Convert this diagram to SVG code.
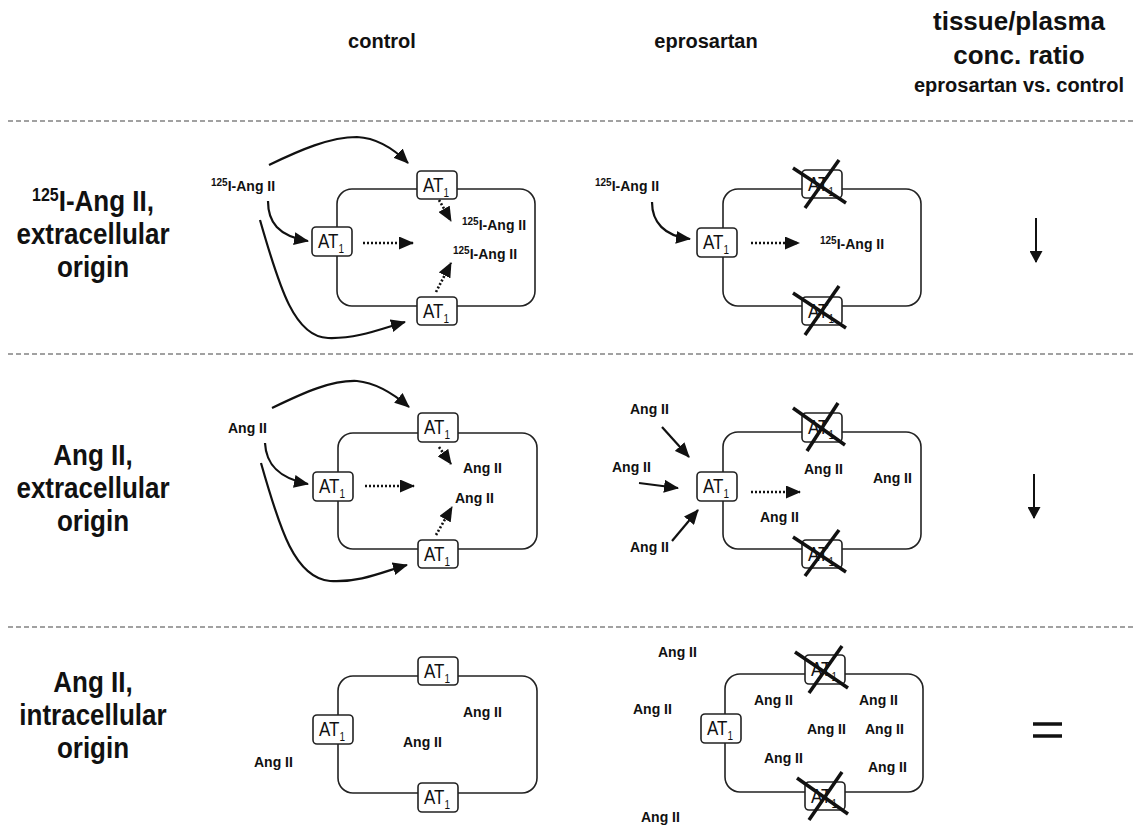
<svg xmlns="http://www.w3.org/2000/svg" width="1135" height="826" viewBox="0 0 1135 826">
<style>
text{font-family:"Liberation Sans",Arial,sans-serif;fill:#111}
.lbl{font-size:26px;font-weight:bold;text-anchor:middle}
.hdr{font-size:20px;font-weight:bold;text-anchor:middle}
.hdr2{font-size:26px;font-weight:bold;text-anchor:middle}
.sm{font-size:14px;font-weight:bold}
.sup{font-size:10px}
.at{font-size:17px}
.sub{font-size:10px}
.cell{fill:none;stroke:#222;stroke-width:1.6}
.box{fill:#fff;stroke:#222;stroke-width:1.6}
.sep{stroke:#444;stroke-width:1.2;stroke-dasharray:5 3}
.cur{fill:none;stroke:#111;stroke-width:2.2;marker-end:url(#ah)}
.dot{fill:none;stroke:#111;stroke-width:2.6;stroke-dasharray:2 2;marker-end:url(#ah)}
.dn{fill:none;stroke:#111;stroke-width:2;marker-end:url(#ah2)}
.x{stroke:#111;stroke-width:3.5}
</style>
<defs>
<marker id="ah" viewBox="0 0 15 13" refX="14" refY="6.5" markerWidth="15" markerHeight="13" markerUnits="userSpaceOnUse" orient="auto"><path d="M0,0 L15,6.5 L0,13 z" fill="#111"/></marker>
<marker id="ah2" viewBox="0 0 12 13" refX="11" refY="6.5" markerWidth="12" markerHeight="13" markerUnits="userSpaceOnUse" orient="auto"><path d="M0,0 L12,6.5 L0,13 z" fill="#111"/></marker>
</defs>
<rect width="1135" height="826" fill="#fff"/>

<g id="headers">
<text class="hdr" x="382" y="48">control</text>
<text class="hdr" x="706" y="48">eprosartan</text>
<text class="hdr2" x="1019" y="30">tissue/plasma</text>
<text class="hdr2" x="1019" y="64">conc. ratio</text>
<text class="hdr" x="1019" y="92">eprosartan vs. control</text>
</g>

<g id="separators">
<line class="sep" x1="8" y1="121" x2="1135" y2="121"/>
<line class="sep" x1="8" y1="354" x2="1135" y2="354"/>
<line class="sep" x1="8" y1="627" x2="1135" y2="627"/>
</g>

<g id="row-labels">
<text class="lbl" x="93" y="211" transform="matrix(1 0 0 1.15 0 -31.65)"><tspan font-size="16" dy="-9">125</tspan><tspan dy="9">I-Ang II,</tspan></text>
<text class="lbl" x="93" y="244" transform="matrix(1 0 0 1.15 0 -36.6)">extracellular</text>
<text class="lbl" x="93" y="277" transform="matrix(1 0 0 1.15 0 -41.55)">origin</text>
<text class="lbl" x="93" y="465" transform="matrix(1 0 0 1.15 0 -69.75)">Ang II,</text>
<text class="lbl" x="93" y="498" transform="matrix(1 0 0 1.15 0 -74.7)">extracellular</text>
<text class="lbl" x="93" y="531" transform="matrix(1 0 0 1.15 0 -79.65)">origin</text>
<text class="lbl" x="93" y="692" transform="matrix(1 0 0 1.15 0 -103.8)">Ang II,</text>
<text class="lbl" x="93" y="725" transform="matrix(1 0 0 1.15 0 -108.75)">intracellular</text>
<text class="lbl" x="93" y="758" transform="matrix(1 0 0 1.15 0 -113.7)">origin</text>
</g>

<!-- cells -->
<g id="cell-r1-control"><rect class="cell" x="337" y="189" width="198" height="117" rx="15"/></g>
<g id="cell-r1-epro"><rect class="cell" x="723" y="189" width="198" height="117" rx="15"/></g>
<g id="cell-r2-control"><rect class="cell" x="338" y="433" width="199" height="116" rx="15"/></g>
<g id="cell-r2-epro"><rect class="cell" x="723" y="432" width="198" height="117" rx="15"/></g>
<g id="cell-r3-control"><rect class="cell" x="338" y="676" width="199" height="117" rx="15"/></g>
<g id="cell-r3-epro"><rect class="cell" x="725" y="674" width="198" height="118" rx="15"/></g>

<!-- AT1 receptors -->
<g id="at-r1c-top"><rect class="box" x="417" y="171" width="40" height="28" rx="4"/><text class="at" x="423" y="192" transform="matrix(1 0 0 1.2 0 -38.4)">AT<tspan class="sub" dy="4">1</tspan></text></g>
<g id="at-r1c-left"><rect class="box" x="312" y="227" width="40" height="29" rx="4"/><text class="at" x="318" y="248" transform="matrix(1 0 0 1.2 0 -49.6)">AT<tspan class="sub" dy="4">1</tspan></text></g>
<g id="at-r1c-bot"><rect class="box" x="417" y="297" width="40" height="28" rx="4"/><text class="at" x="423" y="318" transform="matrix(1 0 0 1.2 0 -63.6)">AT<tspan class="sub" dy="4">1</tspan></text></g>

<g id="at-r1e-left"><rect class="box" x="697" y="228" width="40" height="29" rx="4"/><text class="at" x="703" y="249" transform="matrix(1 0 0 1.2 0 -49.8)">AT<tspan class="sub" dy="4">1</tspan></text></g>
<g id="at-r1e-top"><rect class="box" x="802" y="170" width="40" height="28" rx="4"/><text class="at" x="808" y="191" transform="matrix(1 0 0 1.2 0 -38.2)">AT<tspan class="sub" dy="4">1</tspan></text><line class="x" x1="793" y1="168" x2="846" y2="203"/><line class="x" x1="805" y1="208" x2="839" y2="160"/></g>
<g id="at-r1e-bot"><rect class="box" x="802" y="297" width="40" height="28" rx="4"/><text class="at" x="808" y="318" transform="matrix(1 0 0 1.2 0 -63.6)">AT<tspan class="sub" dy="4">1</tspan></text><line class="x" x1="793" y1="293" x2="846" y2="328"/><line class="x" x1="805" y1="335" x2="839" y2="286"/></g>

<g id="at-r2c-top"><rect class="box" x="418" y="413" width="40" height="29" rx="4"/><text class="at" x="424" y="434" transform="matrix(1 0 0 1.2 0 -86.8)">AT<tspan class="sub" dy="4">1</tspan></text></g>
<g id="at-r2c-left"><rect class="box" x="313" y="472" width="40" height="29" rx="4"/><text class="at" x="319" y="493" transform="matrix(1 0 0 1.2 0 -98.6)">AT<tspan class="sub" dy="4">1</tspan></text></g>
<g id="at-r2c-bot"><rect class="box" x="418" y="540" width="40" height="28" rx="4"/><text class="at" x="424" y="561" transform="matrix(1 0 0 1.2 0 -112.2)">AT<tspan class="sub" dy="4">1</tspan></text></g>

<g id="at-r2e-left"><rect class="box" x="697" y="472" width="40" height="29" rx="4"/><text class="at" x="703" y="493" transform="matrix(1 0 0 1.2 0 -98.6)">AT<tspan class="sub" dy="4">1</tspan></text></g>
<g id="at-r2e-top"><rect class="box" x="802" y="413" width="40" height="29" rx="4"/><text class="at" x="808" y="434" transform="matrix(1 0 0 1.2 0 -86.8)">AT<tspan class="sub" dy="4">1</tspan></text><line class="x" x1="793" y1="408" x2="845" y2="445"/><line class="x" x1="807" y1="451" x2="838" y2="403"/></g>
<g id="at-r2e-bot"><rect class="box" x="802" y="540" width="40" height="28" rx="4"/><text class="at" x="808" y="561" transform="matrix(1 0 0 1.2 0 -112.2)">AT<tspan class="sub" dy="4">1</tspan></text><line class="x" x1="793" y1="537" x2="846" y2="572"/><line class="x" x1="805" y1="576" x2="839" y2="530"/></g>

<g id="at-r3c-top"><rect class="box" x="418" y="657" width="40" height="28" rx="4"/><text class="at" x="424" y="678" transform="matrix(1 0 0 1.2 0 -135.6)">AT<tspan class="sub" dy="4">1</tspan></text></g>
<g id="at-r3c-left"><rect class="box" x="313" y="715" width="40" height="29" rx="4"/><text class="at" x="319" y="736" transform="matrix(1 0 0 1.2 0 -147.2)">AT<tspan class="sub" dy="4">1</tspan></text></g>
<g id="at-r3c-bot"><rect class="box" x="418" y="783" width="40" height="29" rx="4"/><text class="at" x="424" y="804" transform="matrix(1 0 0 1.2 0 -160.8)">AT<tspan class="sub" dy="4">1</tspan></text></g>

<g id="at-r3e-left"><rect class="box" x="701" y="714" width="40" height="29" rx="4"/><text class="at" x="707" y="735" transform="matrix(1 0 0 1.2 0 -147)">AT<tspan class="sub" dy="4">1</tspan></text></g>
<g id="at-r3e-top"><rect class="box" x="805" y="655" width="40" height="29" rx="4"/><text class="at" x="811" y="676" transform="matrix(1 0 0 1.2 0 -135.2)">AT<tspan class="sub" dy="4">1</tspan></text><line class="x" x1="795" y1="652" x2="848" y2="688"/><line class="x" x1="809" y1="693" x2="842" y2="646"/></g>
<g id="at-r3e-bot"><rect class="box" x="805" y="782" width="40" height="28" rx="4"/><text class="at" x="811" y="803" transform="matrix(1 0 0 1.2 0 -160.6)">AT<tspan class="sub" dy="4">1</tspan></text><line class="x" x1="797" y1="778" x2="848" y2="814"/><line class="x" x1="809" y1="820" x2="842" y2="772"/></g>

<!-- molecule labels -->
<g id="mol-r1c">
<text class="sm" x="211" y="191"><tspan class="sup" dy="-5">125</tspan><tspan dy="5">I-Ang II</tspan></text>
<text class="sm" x="462" y="230"><tspan class="sup" dy="-5">125</tspan><tspan dy="5">I-Ang II</tspan></text>
<text class="sm" x="453" y="259"><tspan class="sup" dy="-5">125</tspan><tspan dy="5">I-Ang II</tspan></text>
</g>
<g id="mol-r1e">
<text class="sm" x="595" y="191"><tspan class="sup" dy="-5">125</tspan><tspan dy="5">I-Ang II</tspan></text>
<text class="sm" x="820" y="249"><tspan class="sup" dy="-5">125</tspan><tspan dy="5">I-Ang II</tspan></text>
</g>
<g id="mol-r2c">
<text class="sm" x="228" y="433">Ang II</text>
<text class="sm" x="463" y="473">Ang II</text>
<text class="sm" x="455" y="503">Ang II</text>
</g>
<g id="mol-r2e">
<text class="sm" x="630" y="414">Ang II</text>
<text class="sm" x="612" y="472">Ang II</text>
<text class="sm" x="630" y="552">Ang II</text>
<text class="sm" x="804" y="474">Ang II</text>
<text class="sm" x="760" y="522">Ang II</text>
<text class="sm" x="873" y="483">Ang II</text>
</g>
<g id="mol-r3c">
<text class="sm" x="463" y="717">Ang II</text>
<text class="sm" x="403" y="747">Ang II</text>
<text class="sm" x="254" y="767">Ang II</text>
</g>
<g id="mol-r3e">
<text class="sm" x="658" y="657">Ang II</text>
<text class="sm" x="633" y="714">Ang II</text>
<text class="sm" x="641" y="822">Ang II</text>
<text class="sm" x="754" y="705">Ang II</text>
<text class="sm" x="859" y="705">Ang II</text>
<text class="sm" x="807" y="734">Ang II</text>
<text class="sm" x="865" y="734">Ang II</text>
<text class="sm" x="764" y="763">Ang II</text>
<text class="sm" x="868" y="772">Ang II</text>
</g>

<g id="connectors">
<path class="cur" d="M269,165 C300,150 330,137 357,137 C378,138 395,150 408,163"/>
<path class="cur" d="M268,201 C268,222 278,236 308,241"/>
<path class="cur" d="M260,220 C280,290 295,337 328,338 C358,339 383,328 405,322"/>
<path class="dot" d="M363,243 L413,243"/>
<path class="dot" d="M439,200 L451,221"/>
<path class="dot" d="M436,292 L451,263"/>

<path class="cur" d="M652,202 C652,222 664,236 690,239"/>
<path class="dot" d="M751,243 L799,243"/>

<path class="cur" d="M272,408 C305,392 332,380 357,381 C378,383 395,395 409,407"/>
<path class="cur" d="M265,443 C266,463 277,478 308,484"/>
<path class="cur" d="M261,463 C280,530 295,578 330,581 C360,583 385,571 407,565"/>
<path class="dot" d="M365,486 L414,486"/>
<path class="dot" d="M439,447 L451,464"/>
<path class="dot" d="M436,535 L452,507"/>

<path class="cur" d="M662,427 L689,457"/>
<path class="cur" d="M639,483 L678,488"/>
<path class="cur" d="M672,541 L698,510"/>
<path class="dot" d="M751,492 L800,492"/>

<path class="dn" d="M1036,218 L1036,262"/>
<path class="dn" d="M1034,474 L1034,518"/>
</g>

<g id="equals">
<line x1="1033" y1="724" x2="1062" y2="724" stroke="#111" stroke-width="3.5"/>
<line x1="1033" y1="736" x2="1062" y2="736" stroke="#111" stroke-width="3.5"/>
</g>
</svg>
